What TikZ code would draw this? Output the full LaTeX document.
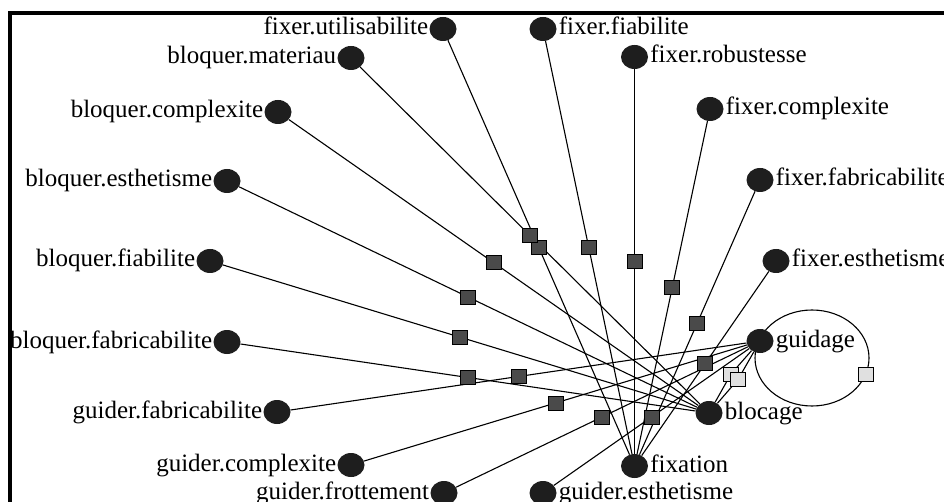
\documentclass[tikz,border=0pt]{standalone}
\usepackage{fontspec}
\setmainfont{Liberation Serif}
\usetikzlibrary{shapes.geometric,backgrounds,calc}
\definecolor{nodefill}{HTML}{1E1E1E}
\definecolor{boxdark}{HTML}{4A4A4A}
\definecolor{boxlight}{HTML}{E0E0E0}
\newcommand\lblfont{\fontsize{25}{25}\selectfont}
\tikzset{
  dot/.style={ellipse, fill=nodefill, draw=none, minimum width=27pt, minimum height=24pt, inner sep=0pt},
  lblL/.style={anchor=base east, inner sep=0pt, xshift=-1pt, yshift=-6pt, font=\lblfont},
  lblR/.style={anchor=base west, inner sep=0pt, xshift=2pt, yshift=-6pt, font=\lblfont},
  link/.style={draw=black, line width=1.1pt},
  sqdark/.style={rectangle, draw=black, line width=0.9pt, fill=boxdark, minimum width=15pt, minimum height=14pt, inner sep=0pt},
  sqlight/.style={sqdark, fill=boxlight},
  frameline/.style={draw=black, line width=4.5pt},
}
\begin{document}
\begin{tikzpicture}[x=1pt, y=-1pt]
\useasboundingbox (0,0) rectangle (944,502);
\clip (0,0) rectangle (944,502);

% window frame (top and left edges)
\coordinate (fbl) at (10,510);
\coordinate (ftl) at (10,13);
\coordinate (ftr) at (950,13);
\draw[frameline] (fbl) -- (ftl) -- (ftr);

% hubs
\node[dot] (guidage)  at (760,341) {};
\node[dot] (blocage)  at (709,413) {};
\node[dot] (fixation) at (634.5,466) {};
\node[lblR] (guidage-l)  at (guidage.east)  {guidage};
\node[lblR] (blocage-l)  at (blocage.east)  {blocage};
\node[lblR] (fixation-l) at (fixation.east) {fixation};

% leaves
\node[dot] (fu)   at (443,29)  {};
\node[dot] (bm)   at (351,58)  {};
\node[dot] (ff)   at (543,29)  {};
\node[dot] (fr)   at (634.5,57) {};
\node[dot] (fc)   at (710,109) {};
\node[dot] (bc)   at (278,112) {};
\node[dot] (be)   at (227,181) {};
\node[dot] (ffab) at (760,180) {};
\node[dot] (bf)   at (210,261) {};
\node[dot] (fe)   at (776,261) {};
\node[dot] (bfab) at (227,342) {};
\node[dot] (gfab) at (277,412) {};
\node[dot] (gc)   at (351,465) {};
\node[dot] (gfr)  at (444,493) {};
\node[dot] (ge)   at (543,493) {};

\node[lblL] (fu-l)   at (fu.west)   {fixer.utilisabilite};
\node[lblL] (bm-l)   at (bm.west)   {bloquer.materiau};
\node[lblR] (ff-l)   at (ff.east)   {fixer.fiabilite};
\node[lblR] (fr-l)   at (fr.east)   {fixer.robustesse};
\node[lblR] (fc-l)   at (fc.east)   {fixer.complexite};
\node[lblL] (bc-l)   at (bc.west)   {bloquer.complexite};
\node[lblL] (be-l)   at (be.west)   {bloquer.esthetisme};
\node[lblR] (ffab-l) at (ffab.east) {fixer.fabricabilite};
\node[lblL] (bf-l)   at (bf.west)   {bloquer.fiabilite};
\node[lblR] (fe-l)   at (fe.east)   {fixer.esthetisme};
\node[lblL] (bfab-l) at (bfab.west) {bloquer.fabricabilite};
\node[lblL] (gfab-l) at (gfab.west) {guider.fabricabilite};
\node[lblL] (gc-l)   at (gc.west)   {guider.complexite};
\node[lblL] (gfr-l)  at (gfr.west)  {guider.frottement};
\node[lblR] (ge-l)   at (ge.east)   {guider.esthetisme};

% connectors, behind the nodes
\coordinate (loopc) at (812,358);
\coordinate (gb1) at ($(guidage)!0.5!(blocage)+(-3.5,-3)$);
\coordinate (gb2) at ($(guidage)!0.5!(blocage)+(3.5,2.5)$);
\begin{pgfonlayer}{background}
  \fill[white] (0,0) rectangle (944,502);
  \draw[link] (fu)   -- coordinate[midway] (m-fu)   (fixation);
  \draw[link] (ff)   -- coordinate[midway] (m-ff)   (fixation);
  \draw[link] (fr)   -- coordinate[midway] (m-fr)   (fixation);
  \draw[link] (fc)   -- coordinate[midway] (m-fc)   (fixation);
  \draw[link] (ffab) -- coordinate[midway] (m-ffab) (fixation);
  \draw[link] (fe)   -- coordinate[midway] (m-fe)   (fixation);
  \draw[link] (bm)   -- coordinate[midway] (m-bm)   (blocage);
  \draw[link] (bc)   -- coordinate[midway] (m-bc)   (blocage);
  \draw[link] (be)   -- coordinate[midway] (m-be)   (blocage);
  \draw[link] (bf)   -- coordinate[midway] (m-bf)   (blocage);
  \draw[link] (bfab) -- coordinate[midway] (m-bfab) (blocage);
  \draw[link] (gfab) -- coordinate[midway] (m-gfab) (guidage);
  \draw[link] (gc)   -- coordinate[midway] (m-gc)   (guidage);
  \draw[link] (gfr)  -- coordinate[midway] (m-gfr)  (guidage);
  \draw[link] (ge)   -- coordinate[midway] (m-ge)   (guidage);
  \draw[link] (guidage) -- (gb1) -- (blocage);
  \draw[link] (blocage) -- (gb2) -- (guidage);
  \draw[link] (loopc) ellipse [x radius=57pt, y radius=48pt];
\end{pgfonlayer}

% relation markers
\foreach \m in {fu,ff,fr,fc,ffab,fe,bm,bc,be,bf,bfab,gfab,gc,gfr,ge}
  \node[sqdark] (s-\m) at (m-\m) {};
\node[sqlight] (s-gb1) at (gb1) {};
\node[sqlight] (s-gb2) at (gb2) {};
\node[sqlight] (s-loop) at ($(loopc)+(54,16)$) {};
\end{tikzpicture}
\end{document}
